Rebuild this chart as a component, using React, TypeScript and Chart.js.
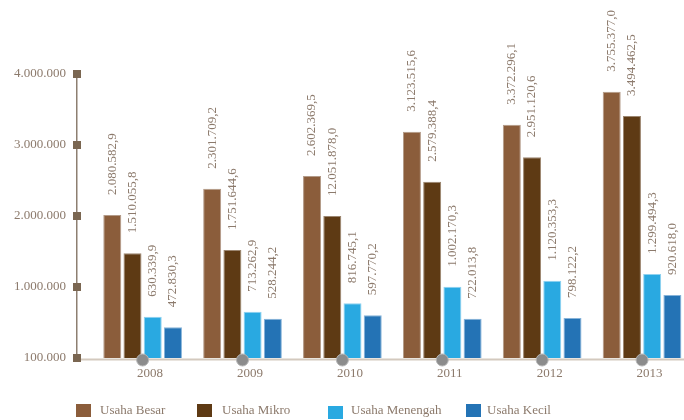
import React, { useEffect, useRef } from "react";
import { Chart, registerables } from "chart.js";

Chart.register(...registerables);

const years = ["2008", "2009", "2010", "2011", "2012", "2013"];
const seriesNames = ["Usaha Besar", "Usaha Mikro", "Usaha Menengah", "Usaha Kecil"];
const seriesColors = ["#8B5D3B", "#5E3A14", "#29A9E1", "#2473B5"];
const seriesBorders = ["#b39a88", "#9c8670", "#8fd2f0", "#86b3d9"];

const usahaBesar = [2014000, 2385000, 2563000, 3187000, 3286000, 3751000];
const usahaMikro = [1475000, 1521000, 2000000, 2483000, 2827000, 3408000];
const usahaMenengah = [582000, 652000, 770000, 1004000, 1089000, 1183000];
const usahaKecil = [432000, 554000, 601000, 554000, 563000, 887000];

const besarLabels = ["2.080.582,9", "2.301.709,2", "2.602.369,5", "3.123.515,6", "3.372.296,1", "3.755.377,0"];
const mikroLabels = ["1.510.055,8", "1.751.644,6", "12.051.878,0", "2.579.388,4", "2.951.120,6", "3.494.462,5"];
const menengahLabels = ["630.339,9", "713.262,9", "816.745,1", "1.002.170,3", "1.120.353,3", "1.299.494,3"];
const kecilLabels = ["472.830,3", "528.244,2", "597.770,2", "722.013,8", "798.122,2", "920.618,0"];

const yTickLabels = ["100.000", "1.000.000", "2.000.000", "3.000.000", "4.000.000"];

const FONT = "'Liberation Serif', 'DejaVu Serif', serif";
const TEXT = "#8c7a6c";

const seriesValues = [usahaBesar, usahaMikro, usahaMenengah, usahaKecil];
const seriesLabels = [besarLabels, mikroLabels, menengahLabels, kecilLabels];

const decorPlugin = {
  id: "decor",
  afterDatasetsDraw(chart: any) {
    const ctx = chart.ctx;
    const area = chart.chartArea;
    const xs = chart.scales.x;
    const ys = chart.scales.y;
    ctx.save();
    ctx.strokeStyle = "#d3c9be";
    ctx.lineWidth = 2;
    ctx.beginPath();
    ctx.moveTo(area.left, area.bottom + 1.5);
    ctx.lineTo(area.right, area.bottom + 1.5);
    ctx.stroke();
    ctx.fillStyle = "#7a6651";
    ys.ticks.forEach((t: any) => {
      const y = ys.getPixelForValue(t.value);
      ctx.fillRect(area.left - 4, y - 4, 8, 8);
    });
    years.forEach((_, i) => {
      const x = xs.getPixelForValue(i);
      ctx.beginPath();
      ctx.arc(x, area.bottom + 2, 6, 0, Math.PI * 2);
      ctx.fillStyle = "#8c8c8c";
      ctx.fill();
      ctx.strokeStyle = "#b5b5b5";
      ctx.lineWidth = 1;
      ctx.stroke();
    });
    ctx.font = `13px ${FONT}`;
    ctx.fillStyle = TEXT;
    ctx.textAlign = "left";
    ctx.textBaseline = "middle";
    chart.data.datasets.forEach((_ds: any, di: number) => {
      const meta = chart.getDatasetMeta(di);
      meta.data.forEach((bar: any, i: number) => {
        ctx.save();
        ctx.translate(bar.x, bar.y - 20);
        ctx.rotate(-Math.PI / 2);
        ctx.fillText(seriesLabels[di][i], 0, 0);
        ctx.restore();
      });
    });
    ctx.restore();
  },
};

export default function App() {
  const ref = useRef<HTMLCanvasElement>(null);
  useEffect(() => {
    if (!ref.current) return;
    const chart = new Chart(ref.current, {
      type: "bar",
      data: {
        datasets: seriesNames.map((name, s) => ({
          label: name,
          data: seriesValues[s].map((v, i) => ({ x: i, y: v })),
          backgroundColor: seriesColors[s],
          borderColor: seriesBorders[s],
          borderWidth: 1,
          categoryPercentage: 0.81,
          barPercentage: 0.89,
        })),
      },
      options: {
        animation: false,
        responsive: false,
        devicePixelRatio: 1,
        layout: { padding: { top: 74, right: 0, bottom: 0, left: 0 } },
        plugins: { legend: { display: false }, tooltip: { enabled: false } },
        scales: {
          x: {
            type: "linear",
            offset: false,
            min: -0.657,
            max: 5.42,
            grid: { display: false, drawTicks: false, offset: false },
            border: { display: false },
            afterBuildTicks: (axis: any) => {
              axis.ticks = years.map((_, i) => ({ value: i }));
            },
            afterFit: (scale: any) => {
              scale.height = 62;
            },
            ticks: {
              autoSkip: false,
              maxRotation: 0,
              padding: 8,
              labelOffset: 7.5,
              color: TEXT,
              font: { family: FONT, size: 13 },
              callback: (v: any) => years[v] ?? "",
            },
          },
          y: {
            min: 0,
            max: 4000000,
            grid: { display: false, drawTicks: false },
            border: { display: true, color: "#8d7f71", width: 1.5 },
            afterFit: (scale: any) => {
              scale.width = 77;
            },
            ticks: {
              stepSize: 1000000,
              padding: 11,
              color: TEXT,
              font: { family: FONT, size: 13 },
              callback: (_v: any, idx: number) => yTickLabels[idx],
            },
          },
        },
      },
      plugins: [decorPlugin],
    });
    return () => chart.destroy();
  }, []);

  const legendItems = [
    { box: 76, text: 100, top: 404 },
    { box: 197, text: 222, top: 404 },
    { box: 328, text: 351, top: 406 },
    { box: 466, text: 487, top: 404 },
  ];

  return (
    <div style={{ position: "fixed", left: 0, top: 0, width: 684, height: 420, background: "#fff", overflow: "hidden" }}>
      <canvas ref={ref} width={684} height={420} style={{ display: "block" }} />
      {seriesNames.map((name, s) => (
        <React.Fragment key={name}>
          <div
            style={{
              position: "absolute",
              left: legendItems[s].box,
              top: legendItems[s].top,
              width: 15,
              height: 13,
              background: seriesColors[s],
            }}
          />
          <div
            style={{
              position: "absolute",
              left: legendItems[s].text,
              top: 402,
              fontFamily: FONT,
              fontSize: 13,
              lineHeight: "16px",
              color: TEXT,
              whiteSpace: "nowrap",
            }}
          >
            {name}
          </div>
        </React.Fragment>
      ))}
    </div>
  );
}
